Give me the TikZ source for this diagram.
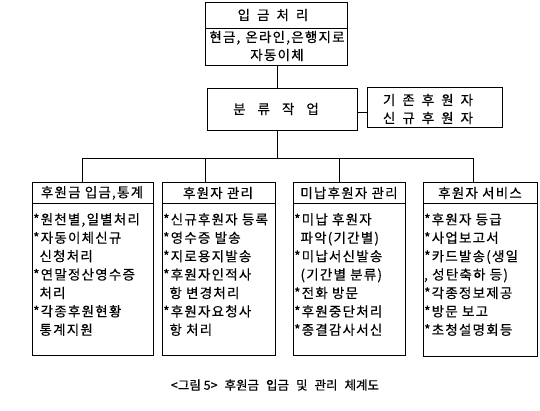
\documentclass[tikz,border=0pt]{standalone}
\usepackage{fontspec}
\setmainfont{Noto Sans CJK KR}[FakeBold=0.4]
\newfontfamily\wide{Noto Sans CJK KR}[LetterSpace=9,FakeBold=0.4]
\usetikzlibrary{calc}
\begin{document}
\begin{tikzpicture}[x=1pt,y=-1pt,
  box/.style={draw, line width=0.8pt, inner sep=0pt, anchor=north west},
  hdr/.style={inner sep=0pt, font=\wide\fontsize{13.5}{16}\selectfont},
  body/.style={inner sep=0pt, anchor=north west, align=left, font=\wide\fontsize{13.5}{18.4}\selectfont},
  conn/.style={line width=0.8pt}]
\useasboundingbox (0,0) rectangle (540,410);

% top box
\node[box, minimum width=142pt, minimum height=63pt] (top) at (205,2) {};
\draw[conn] ([yshift=-26pt]top.north west) -- ([yshift=-26pt]top.north east);
\node[hdr] (topt) at (273,15) {입\hspace{7pt}금\hspace{7pt}처\hspace{7pt}리};
\node[hdr, align=center, font=\wide\fontsize{13.5}{18}\selectfont] (topb) at (277,46) {현금,\hspace{5pt}온라인,은행지로\\자동이체};

% classification
\node[box, minimum width=150pt, minimum height=42pt] (cls) at (207,88) {};
\node[hdr] (clst) at (276,109) {분\hspace{12pt}류\hspace{12pt}작\hspace{12pt}업};
\node[box, minimum width=135pt, minimum height=40pt] (don) at (367,87) {};
\node[hdr, align=center, font=\wide\fontsize{13.5}{18}\selectfont] (dont) at (428,109) {기\hspace{7pt}존\hspace{7pt}후\hspace{7pt}원\hspace{7pt}자\\신\hspace{7pt}규\hspace{7pt}후\hspace{7pt}원\hspace{7pt}자};
\draw[conn] (cls.east |- 0,112) -- (don.west |- 0,112);

% bottom boxes
\node[box, minimum width=121pt, minimum height=173pt] (b1) at (32,182) {};
\node[box, minimum width=113pt, minimum height=173pt] (b2) at (162,182) {};
\node[box, minimum width=112pt, minimum height=173pt] (b3) at (293,182) {};
\node[box, minimum width=114pt, minimum height=174pt] (b4) at (423,182) {};
\foreach \b in {b1,b2,b3,b4}{
  \draw[conn] ([yshift=-21pt]\b.north west) -- ([yshift=-21pt]\b.north east);
}
\node[hdr] (h1) at (92,193) {후원금 입금,통계};
\node[hdr] (h2) at (218,193) {후원자 관리};
\node[hdr] (h3) at (349,193) {미납후원자 관리};
\node[hdr] (h4) at (480,193) {후원자 서비스};

\node[body] (t1) at (33,213) {*원천별,일별처리\\*자동이체신규\\\phantom{*}신청처리\\*연말정산영수증\\\phantom{*}처리\\*각종후원현황\\\phantom{*}통계지원};
\node[body] (t2) at (163,213) {*신규후원자 등록\\*영수증 발송\\*지로용지발송\\*후원자인적사\\\phantom{*}항 변경처리\\*후원자요청사\\\phantom{*}항 처리};
\node[body] (t3) at (294,213) {*미납 후원자\\\phantom{*}파악(기간별)\\*미납서신발송\\\phantom{*}(기간별 분류)\\*전화 방문\\*후원중단처리\\*종결감사서신};
\node[body] (t4) at (424,213) {*후원자 등급\\*사업보고서\\*카드발송(생일\\, 성탄축하 등)\\*각종정보제공\\*방문 보고\\*초청설명회등};

% connectors
\coordinate (bus) at (277,158);
\draw[conn] (top.south -| bus) -- (cls.north -| bus);
\draw[conn] (cls.south -| bus) -- (bus);
\draw[conn] (bus) -| ([xshift=50pt]b1.north west);
\draw[conn] (bus) -| ([xshift=43pt]b2.north west);
\draw[conn] (bus) -| ([xshift=46pt]b3.north west);
\draw[conn] (bus) -| ([xshift=50pt]b4.north west);

% caption
\node[inner sep=0pt, font=\fontsize{12.5}{14}\selectfont] (cap) at (275,385) {<그림 5>\hspace{7pt}후원금\hspace{7pt}입금\hspace{7pt}및\hspace{7pt}관리\hspace{7pt}체계도};
\end{tikzpicture}
\end{document}
